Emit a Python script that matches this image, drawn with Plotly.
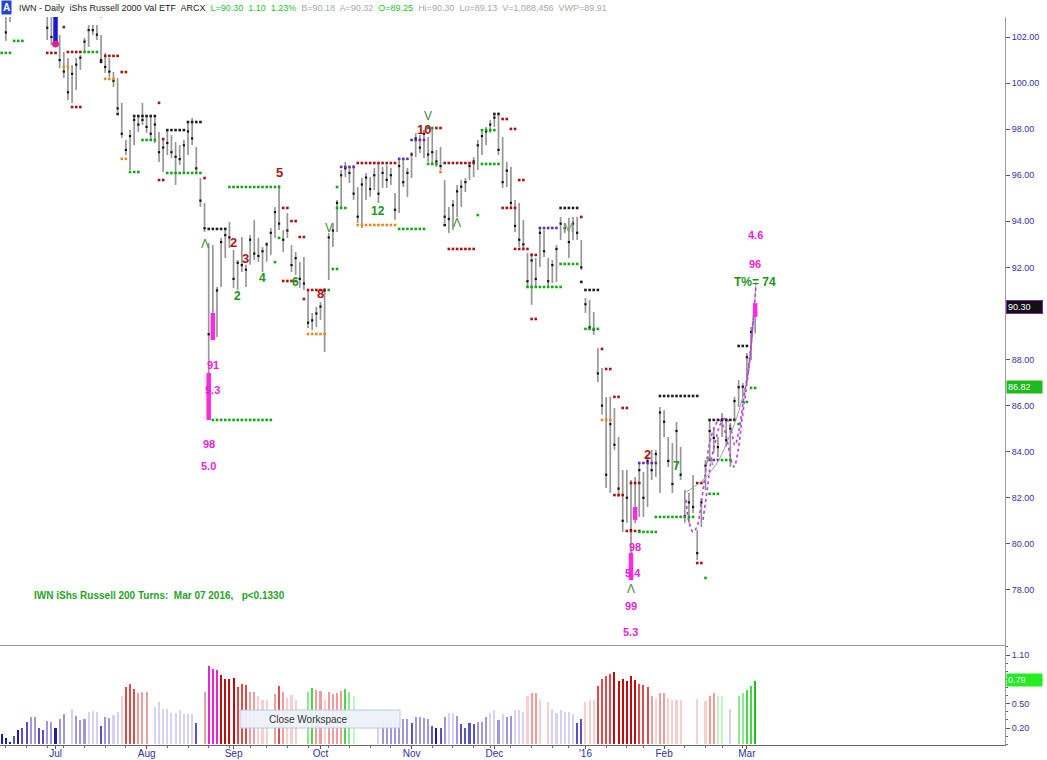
import plotly.graph_objects as go
import pandas as pd

# ---------------- data ----------------
holidays = ["2015-07-03", "2015-09-07", "2015-11-26", "2015-12-25",
            "2016-01-01", "2016-01-18", "2016-02-15"]
dates = pd.bdate_range("2015-06-12", "2016-03-03", freq="C", holidays=holidays)

month_labels = ["Jul", "Aug", "Sep", "Oct", "Nov", "Dec", "'16", "Feb", "Mar"]

high = [104.10, 103.40, 103.50, 104.20, 104.50, 104.60, 104.30, 104.00, 104.40, 104.10,
        103.90, 103.30, 103.20, 103.00, 102.09, 101.35, 101.09, 100.79, 101.09, 101.22,
        101.96, 102.52, 102.52, 102.52, 102.09, 101.31, 101.09, 100.48, 100.22, 99.14,
        97.53, 97.96, 98.62, 98.62, 99.14, 98.62, 98.62, 98.62, 97.88, 97.62,
        97.96, 97.75, 97.44, 97.31, 97.53, 98.31, 98.48, 97.23, 95.88, 94.80,
        93.06, 92.97, 91.15, 93.28, 93.62, 93.97, 92.76, 92.32, 93.32, 92.11,
        93.41, 94.06, 93.28, 92.89, 93.10, 93.71, 94.62, 95.58, 93.62, 94.36,
        92.97, 92.67, 92.24, 92.45, 91.02, 90.02, 90.28, 90.50, 91.11, 93.49,
        93.93, 94.93, 96.23, 96.58, 96.36, 96.45, 95.49, 95.88, 96.10, 95.92,
        96.32, 96.53, 96.36, 96.45, 96.32, 95.23, 96.66, 96.75, 96.32, 97.01,
        97.83, 97.75, 97.96, 97.66, 98.05, 97.10, 97.23, 95.79, 94.62, 94.93,
        95.58, 95.79, 95.88, 96.53, 96.79, 97.53, 97.96, 98.09, 98.40, 98.62,
        98.62, 97.66, 96.58, 96.36, 94.93, 94.80, 94.06, 92.63, 92.63, 92.41,
        93.76, 93.62, 92.41, 92.32, 92.97, 94.19, 93.93, 94.15, 94.19, 94.19,
        93.19, 90.67, 90.59, 90.06, 88.50, 87.63, 86.38, 86.38, 85.90, 84.64,
        83.21, 83.21, 82.77, 82.90, 83.56, 83.12, 83.86, 84.08, 84.08, 85.94,
        85.81, 84.64, 84.38, 85.29, 84.21, 82.34, 82.21, 82.99, 80.60, 81.99,
        83.64, 85.38, 85.07, 84.64, 85.68, 85.46, 85.25, 86.38, 87.11, 86.98,
        88.29, 89.41, 90.30]

low = [103.20, 101.83, 102.65, 103.40, 103.70, 103.80, 103.40, 103.20, 103.60, 103.30,
       103.10, 101.87, 101.65, 101.70, 100.65, 100.22, 99.27, 99.14, 99.70, 100.57,
       101.31, 101.57, 102.09, 101.87, 100.92, 100.44, 100.26, 99.83, 98.75, 97.62,
       96.88, 96.23, 97.31, 97.88, 98.18, 97.83, 97.53, 97.40, 96.58, 96.14,
       96.88, 96.75, 95.58, 96.45, 96.14, 96.88, 97.31, 96.10, 94.62, 93.54,
       85.38, 88.85, 88.98, 91.15, 92.41, 92.84, 91.11, 91.02, 91.80, 91.15,
       92.11, 92.32, 92.24, 91.80, 92.24, 92.54, 93.28, 93.62, 92.67, 93.28,
       91.80, 91.67, 91.11, 91.02, 89.37, 89.28, 89.41, 89.72, 88.33, 91.45,
       92.89, 93.54, 94.58, 95.92, 95.66, 94.93, 93.93, 93.71, 94.93, 95.06,
       95.36, 94.80, 95.45, 95.45, 95.58, 94.06, 94.36, 95.49, 95.06, 95.88,
       96.79, 96.97, 96.75, 96.58, 96.53, 96.36, 96.23, 93.93, 93.49, 93.62,
       94.19, 94.62, 95.27, 95.79, 95.92, 96.23, 96.88, 97.31, 97.83, 98.09,
       96.88, 95.45, 95.49, 94.62, 93.54, 92.89, 92.84, 91.15, 90.37, 91.15,
       92.02, 92.45, 91.15, 91.32, 91.37, 93.19, 93.49, 92.41, 93.19, 93.19,
       91.89, 90.02, 89.28, 89.07, 87.03, 85.60, 82.43, 82.21, 84.08, 82.04,
       80.52, 80.91, 78.43, 80.91, 81.17, 81.17, 81.60, 82.77, 82.90, 82.21,
       84.64, 83.34, 82.21, 83.29, 82.77, 80.91, 80.91, 81.34, 79.30, 80.73,
       82.34, 83.64, 83.95, 83.77, 84.64, 84.21, 83.34, 85.38, 85.94, 86.38,
       86.98, 87.98, 89.13]

close = [103.60, 102.20, 103.10, 103.90, 104.20, 104.00, 103.60, 103.80, 103.70, 103.50,
         103.30, 102.40, 102.00, 101.80, 101.00, 100.50, 99.60, 100.40, 100.80, 101.10,
         101.80, 102.30, 102.30, 102.10, 101.00, 100.70, 100.50, 100.10, 98.90, 97.80,
         97.10, 97.70, 98.40, 98.20, 98.40, 98.10, 97.80, 98.20, 97.00, 97.20,
         97.40, 97.00, 96.80, 96.70, 97.30, 97.90, 97.60, 96.30, 94.90, 93.70,
         89.10, 89.00, 91.00, 93.10, 93.40, 93.30, 91.50, 92.20, 92.10, 91.90,
         93.20, 92.60, 92.50, 92.70, 93.00, 93.50, 94.40, 93.90, 93.20, 93.60,
         92.10, 92.40, 91.50, 91.30, 89.60, 89.70, 90.00, 90.30, 91.00, 93.30,
         93.60, 94.80, 96.00, 96.30, 96.10, 95.20, 94.20, 95.60, 95.90, 95.40,
         96.00, 95.20, 96.10, 95.80, 96.00, 94.50, 96.40, 95.70, 96.10, 96.90,
         97.60, 97.20, 97.80, 96.90, 97.00, 96.60, 96.40, 94.20, 94.10, 94.70,
         95.30, 95.50, 95.70, 96.40, 96.60, 97.30, 97.70, 97.90, 98.20, 98.50,
         97.10, 95.70, 96.20, 94.80, 93.80, 93.20, 93.00, 91.40, 92.30, 91.50,
         93.50, 92.70, 91.40, 92.10, 92.80, 93.90, 93.70, 93.10, 93.90, 93.50,
         92.00, 90.40, 89.40, 89.30, 87.40, 86.00, 83.00, 85.20, 84.30, 82.40,
         81.00, 82.00, 80.60, 81.40, 83.20, 82.00, 83.60, 83.20, 83.90, 85.70,
         85.30, 83.60, 82.60, 84.90, 83.00, 81.20, 81.80, 81.60, 79.60, 81.80,
         83.40, 84.90, 84.60, 84.20, 85.40, 84.50, 85.00, 86.20, 86.80, 86.82,
         88.10, 89.20, 90.30]

osc = [0.13, 0.08, 0.03, 0.10, 0.175, 0.20, 0.28, 0.33, 0.33, 0.20,
       0.17, 0.29, 0.27, 0.20, 0.31, 0.37, None, 0.44, 0.35, 0.30,
       0.31, 0.40, 0.41, 0.40, 0.22, 0.33, 0.32, 0.36, 0.40, 0.59,
       0.71, 0.74, 0.68, 0.63, 0.64, 0.64, None, 0.46, 0.52, 0.44,
       0.44, 0.39, 0.39, 0.42, 0.37, 0.37, 0.37, 0.26, None, 0.65,
       0.96, 0.93, 0.91, 0.85, 0.80, 0.80, 0.82, 0.71, 0.74, 0.73,
       0.64, 0.64, 0.60, 0.545, 0.55, None, 0.615, 0.72, 0.64, 0.57,
       0.61, 0.545, None, None, 0.64, 0.69, 0.67, 0.66, 0.55, 0.64,
       0.615, 0.63, 0.66, 0.68, 0.65, 0.59, None, None, None, None,
       None, 0.42, 0.29, 0.29, 0.30, 0.33, 0.28, 0.31, 0.31, 0.26,
       0.34, 0.33, 0.32, 0.31, 0.22, 0.20, 0.20, 0.33, 0.39, 0.38,
       0.35, 0.245, 0.20, 0.265, 0.245, 0.28, 0.28, 0.33, 0.39, 0.42,
       0.30, 0.37, 0.33, 0.35, 0.42, 0.42, 0.40, 0.59, 0.63, 0.63,
       0.545, None, 0.52, 0.43, 0.39, 0.42, 0.40, 0.40, 0.37, 0.265,
       0.31, 0.52, 0.545, 0.55, 0.72, 0.80, 0.84, 0.86, 0.89, 0.78,
       0.81, 0.78, 0.845, 0.79, 0.74, 0.73, 0.71, 0.60, 0.57, 0.63,
       0.63, 0.57, 0.54, 0.545, 0.545, None, None, None, 0.56, None,
       0.53, 0.59, 0.63, 0.59, 0.59, None, 0.43, None, 0.59, 0.63,
       0.67, 0.72, 0.78]

osc_state = ["b3", "b3", "b3", "b2", "b3", "b2", "b2", "b1", "b1", "b2",
             "b2", "b1", "b1", "b3", "b1", "b1", "w", "b0", "b1", "b1",
             "b1", "b0", "b0", "b0", "b2", "b1", "b1", "b0", "b0", "r0",
             "r2", "r2", "r2", "r1", "r1", "r1", "w", "b0", "b0", "b0",
             "b0", "b0", "b0", "b0", "b0", "b0", "b0", "b2", "w", "r1",
             "m", "m", "m", "r3", "r3", "r3", "r3", "r2", "r2", "r2",
             "r1", "r1", "r0", "r0", "r0", "w", "r1", "r2", "r1", "r0",
             "r0", "r0", "w", "w", "g1", "g2", "r1", "r1", "r0", "r1",
             "r1", "r1", "r1", "g2", "g1", "g0", "w", "w", "w", "w",
             "w", "b0", "b1", "b1", "b1", "b1", "b1", "b1", "b1", "b2",
             "b1", "b1", "b1", "b1", "b2", "b3", "b2", "b1", "b0", "b0",
             "b1", "b2", "b2", "b2", "b2", "b1", "b1", "b1", "b0", "b0",
             "b1", "b0", "b1", "b1", "b0", "b0", "b0", "r0", "r1", "r1",
             "r0", "w", "r0", "b0", "b0", "b0", "b0", "b0", "b0", "b2",
             "b2", "r0", "r0", "r0", "r2", "r2", "r2", "r2", "r3", "r3",
             "r3", "r3", "r3", "r3", "r2", "r2", "r2", "r1", "r0", "r1",
             "r1", "r0", "r0", "r0", "r0", "w", "w", "w", "r0", "w",
             "r0", "r1", "r1", "g0", "g0", "w", "b0", "w", "g1", "g1",
             "g2", "g2", "g3"]

# stop / level dots: (first bar, last bar, price, kind)
levels = [
    (0, 2, 101.31, "g"), (3, 5, 101.83, "g"), (11, 13, 101.31, "r"), (15, 15, 102.43, "r"),
    (16, 19, 101.35, "r"), (15, 16, 100.70, "o"), (17, 19, 98.96, "r"), (20, 23, 101.35, "g"),
    (24, 24, 102.91, "r"), (24, 24, 100.92, "k"), (25, 28, 101.18, "r"), (25, 27, 100.18, "o"),
    (29, 30, 100.48, "r"), (28, 28, 98.66, "k"), (38, 38, 99.14, "r"), (39, 39, 97.57, "r"),
    (32, 37, 98.57, "k"), (34, 37, 97.53, "g"), (31, 33, 96.14, "g"), (29, 30, 96.71, "o"),
    (40, 44, 97.96, "k"), (45, 48, 98.31, "k"), (40, 48, 96.10, "g"), (38, 39, 95.79, "r"),
    (49, 49, 95.88, "r"), (50, 54, 93.67, "k"), (55, 67, 95.49, "g"), (68, 69, 94.58, "r"),
    (70, 71, 94.01, "r"), (72, 73, 93.32, "r"), (67, 67, 93.28, "g"), (66, 66, 92.23, "g"),
    (68, 71, 91.41, "r"), (74, 78, 91.02, "r"), (73, 73, 90.63, "r"), (74, 78, 89.11, "o"),
    (79, 79, 91.02, "g"), (80, 81, 91.93, "g"), (81, 83, 94.58, "g"), (51, 65, 85.38, "g"),
    (81, 81, 95.49, "g"), (82, 85, 96.36, "p"), (86, 95, 96.53, "r"), (86, 95, 93.84, "o"),
    (96, 102, 93.67, "g"), (96, 98, 96.71, "p"), (99, 102, 97.53, "p"), (103, 104, 98.05, "g"),
    (105, 106, 98.05, "r"), (103, 105, 96.49, "g"), (106, 106, 96.14, "o"), (107, 114, 96.53, "r"),
    (108, 114, 92.80, "r"), (107, 107, 93.84, "k"), (115, 115, 94.27, "g"), (116, 119, 97.96, "g"),
    (116, 120, 96.49, "g"), (119, 120, 98.66, "k"), (121, 122, 98.44, "r"), (123, 124, 98.01, "r"),
    (125, 126, 95.79, "r"), (121, 124, 94.58, "r"), (124, 127, 92.80, "r"), (128, 129, 92.54, "r"),
    (127, 135, 91.15, "g"), (128, 129, 89.76, "r"), (130, 134, 93.71, "p"), (135, 139, 94.58, "k"),
    (135, 139, 92.15, "g"), (140, 140, 94.19, "r"), (140, 140, 91.37, "k"), (141, 144, 91.02, "k"),
    (141, 144, 89.33, "g"), (145, 145, 88.46, "r"), (146, 147, 87.59, "r"), (148, 149, 86.38, "r"),
    (150, 151, 85.90, "r"), (145, 147, 85.38, "o"), (148, 150, 82.12, "r"), (152, 154, 82.64, "r"),
    (154, 158, 83.51, "p"), (151, 154, 80.56, "r"), (154, 158, 80.52, "g"), (159, 168, 86.42, "k"),
    (158, 167, 81.17, "g"), (168, 169, 82.64, "r"), (171, 173, 82.17, "g"), (171, 173, 83.64, "p"),
    (174, 176, 83.64, "g"), (168, 169, 79.17, "r"), (170, 170, 78.52, "g"), (171, 177, 85.38, "k"),
    (178, 178, 85.20, "g"), (178, 180, 88.59, "k"), (181, 182, 86.77, "g"), (179, 180, 86.16, "g"),
]

# highlighted bars: (bar, top price, bottom price, kind)
highlights = [(13, 102.95, 101.70, "blue"), (50, 87.42, 85.38, "pink"), (51, 90.02, 88.85, "pink"),
              (152, 79.61, 78.43, "pink"), (153, 81.60, 81.04, "pink"), (182, 90.45, 89.85, "pink")]

# chart labels: (text, bar, price, kind)
labels = [
    ("5", 67, 96.10, "red"), ("2", 56, 93.06, "red"), ("3", 59, 92.37, "red"),
    ("2", 57, 90.76, "green"), ("4", 63, 91.54, "green"), ("6", 71, 91.37, "green"),
    ("8", 77, 90.85, "red"), ("V", 79, 93.71, "gthin"), ("Λ", 49, 93.02, "gthin"),
    ("12", 91, 94.45, "green"), ("10", 102, 97.98, "red"), ("V", 103, 98.58, "gthin"),
    ("Λ", 110, 93.93, "gthin"), ("M", 137, 93.75, "gray"), ("2", 156, 83.86, "red"),
    ("7", 163, 83.38, "green"), ("Λ", 171, 83.64, "gray"), ("Λ", 152, 78.05, "gthin"),
    ("98", 153, 79.87, "mag"), ("5.4", 152.6, 78.72, "mag"), ("99", 152, 77.31, "mag"),
    ("5.3", 152, 76.18, "mag"), ("91", 51, 87.77, "mag"), ("5.3", 51, 86.68, "mag"),
    ("98", 50, 84.34, "mag"), ("5.0", 50, 83.38, "mag"), ("4.6", 182, 93.41, "mag"),
    ("96", 182, 92.15, "mag"), ("T%= 74", 182, 91.37, "green"),
]

# projected turn curves (bar, price)
curve1_x = [165.3, 166.0, 167.0, 168.0, 168.9, 169.9, 170.9, 172.1, 173.3, 174.2,
            175.2, 176.2, 176.9, 177.9, 178.8, 179.8, 180.8, 181.5, 182.2]
curve1_y = [81.91, 80.95, 80.52, 80.78, 81.69, 82.99, 84.29, 85.03, 85.38, 85.16,
            84.51, 83.64, 83.34, 84.08, 85.38, 86.68, 88.20, 89.72, 91.24]
curve2_x = [169.4, 170.4, 171.3, 172.5, 173.5, 174.9, 176.2, 177.1, 178.1, 179.0,
            180.0, 181.0, 181.7]
curve2_y = [81.04, 82.34, 83.56, 84.51, 85.16, 85.47, 84.94, 84.29, 84.94, 86.03,
            87.20, 88.63, 90.15]
trend_x = [165.0, 167.2, 169.4, 171.6, 173.5, 175.4, 177.1, 178.8, 180.3, 181.2, 182.2]
trend_y = [82.21, 82.47, 82.77, 83.21, 83.73, 84.51, 85.25, 86.25, 87.33, 88.85, 91.37]

last_price = 90.30
marker_price = 86.82
osc_last = 0.79

# ---------------- styling ----------------
FONT = "Liberation Sans, Arial, sans-serif"
W, H = 1047, 760
ML, MR, MT, MB = 0, 42, 5, 15
PW, PH = W - ML - MR, H - MT - MB


def xp(px):
    return (px - ML) / PW


def yp(py):
    return (H - MB - py) / PH


level_colors = {"g": "#12a812", "k": "#1e1e1e", "r": "#a81010", "o": "#e08a1c", "p": "#6a2ab0"}
state_colors = {"b3": "#1c1ca6", "b2": "#5a52c4", "b1": "#9f98dc", "b0": "#d6d2f1", "w": "#ffffff",
                "r0": "#f8cece", "r1": "#f09c9c", "r2": "#e04a4a", "r3": "#c20c0c",
                "m": "#f01fd8", "g0": "#c2f2c2", "g1": "#8ee88e", "g2": "#48d848", "g3": "#16c616"}
label_styles = {"red": ("#b01515", 13, True), "green": ("#1b941b", 12, True),
                "mag": ("#ec1edc", 11, True), "gthin": ("#3d8c3d", 12, False),
                "gray": ("#7f9a7f", 13, False)}

n = len(high)
idx = list(range(n))

fig = go.Figure()

# high-low bars
bx, by = [], []
for i in idx:
    bx += [i, i, None]
    by += [low[i], high[i], None]
fig.add_trace(go.Scatter(x=bx, y=by, mode="lines", line=dict(color="#979797", width=1.7),
                         hoverinfo="skip", xaxis="x", yaxis="y"))
fig.add_trace(go.Scatter(x=idx, y=close, mode="markers",
                         marker=dict(symbol="square", size=2.2, color="#111111"),
                         hoverinfo="skip", xaxis="x", yaxis="y"))

# level dots
lx, ly, lc = [], [], []
for a, b, p, k in levels:
    for i in range(a, b + 1):
        lx.append(i)
        ly.append(p)
        lc.append(level_colors[k])
fig.add_trace(go.Scatter(x=lx, y=ly, mode="markers",
                         marker=dict(symbol="square", size=2.6, color=lc, line=dict(width=0)),
                         hoverinfo="skip", xaxis="x", yaxis="y"))

# curves
fig.add_trace(go.Scatter(x=trend_x, y=trend_y, mode="lines", line=dict(color="#a0a0a0", width=1),
                         line_shape="spline", hoverinfo="skip", xaxis="x", yaxis="y"))
for cx, cy in ((curve1_x, curve1_y), (curve2_x, curve2_y)):
    fig.add_trace(go.Scatter(x=cx, y=cy, mode="lines", line_shape="spline",
                             line=dict(color="#b444d4", width=1.6, dash="dot"),
                             hoverinfo="skip", xaxis="x", yaxis="y"))

# highlight bars
for i, top, bot, k in highlights:
    col = "#1a1ad0" if k == "blue" else "#ff2ae0"
    fig.add_trace(go.Scatter(x=[i, i], y=[bot, top], mode="lines", line=dict(color=col, width=4.5),
                             hoverinfo="skip", xaxis="x", yaxis="y"))
fig.add_trace(go.Scatter(x=[highlights[0][0]], y=[highlights[0][2]], mode="markers",
                         marker=dict(size=7, color="#e0208c"), hoverinfo="skip", xaxis="x", yaxis="y"))

# oscillator bars
fig.add_trace(go.Bar(x=idx, y=osc, marker=dict(color=[state_colors[s] for s in osc_state], line=dict(width=0)),
                     width=0.5, hoverinfo="skip", xaxis="x2", yaxis="y2"))

# axis ticks from dates (first trading day of each month / week)
month_pos, week_pos = [], []
prev = None
for i, d in enumerate(dates[:n]):
    if prev is not None and d.month != prev.month:
        month_pos.append(i)
    if prev is not None and d.weekday() < prev.weekday():
        week_pos.append(i)
    prev = d
month_pos = month_pos[:len(month_labels)]

x_lo = (0 - 1.7) / 4.14
x_hi = (PW - 1.7) / 4.14
p_hi = 102 + (37 - 17) / 23.04
p_lo = p_hi - (645 - 17) / 23.04
o_lo = 0.20 - (745 - 728) / 81.1
o_hi = o_lo + 100 / 81.1

axis_font = dict(family=FONT, size=10, color="#2e3496")
price_ticks = [v for v in range(78, 104, 2) if abs(v - last_price) > 0.6]

fig.update_layout(
    width=W, height=H, margin=dict(l=ML, r=MR, t=MT, b=MB, autoexpand=False),
    paper_bgcolor="white", plot_bgcolor="white", showlegend=False, bargap=0,
    font=dict(family=FONT),
    xaxis=dict(domain=[0, 1], anchor="y", range=[x_lo, x_hi], showticklabels=False, ticks="",
               showgrid=False, zeroline=False, showline=True, linecolor="#9a9a9a", linewidth=1,
               automargin=False),
    xaxis2=dict(domain=[0, 1], anchor="y2", range=[x_lo, x_hi], tickmode="array",
                tickvals=month_pos, ticktext=month_labels, ticks="outside", ticklen=3,
                ticklabelstandoff=-4,
                tickcolor="#555555", tickfont=axis_font, showgrid=False, zeroline=False,
                showline=True, linecolor="#666666", linewidth=1, automargin=False,
                minor=dict(tickmode="array", tickvals=week_pos, ticks="outside", ticklen=2,
                           tickcolor="#666666")),
    yaxis=dict(domain=[yp(645), yp(17)], range=[p_lo, p_hi], side="right",
               tickmode="array", tickvals=price_ticks, tickformat=".2f",
               ticks="outside", ticklen=4, tickcolor="#555555", automargin=False,
               tickfont=dict(family=FONT, size=9, color="#33339a"),
               showgrid=False, zeroline=False, showline=True, linecolor="#9a9a9a", mirror=True),
    yaxis2=dict(domain=[0, yp(645)], range=[o_lo, o_hi], side="right",
                tickmode="array", tickvals=[0.2, 0.5, 1.1], tickformat=".2f",
                ticks="outside", ticklen=4, tickcolor="#555555", automargin=False,
                tickfont=dict(family=FONT, size=9, color="#33339a"),
                minor=dict(dtick=0.1, ticks="outside", ticklen=2, tickcolor="#666666"),
                showgrid=False, zeroline=False, showline=True, linecolor="#9a9a9a", mirror=True),
)

ann = []
for text, i, p, k in labels:
    col, size, bold = label_styles[k]
    t = f"<b>{text}</b>" if bold else text
    ann.append(dict(x=i, y=p, xref="x", yref="y", text=t, showarrow=False,
                    font=dict(family=FONT, size=size, color=col), xanchor="center", yanchor="middle"))

ann.append(dict(xref="paper", yref="paper", x=xp(32), y=yp(595), xanchor="left", yanchor="middle",
                showarrow=False,
                text="<b>IWN iShs Russell 200 Turns:&nbsp; Mar 07 2016,&nbsp;&nbsp; p&lt;0.1330</b>",
                font=dict(family=FONT, size=10, color="#1fa51f")))

# value boxes on the right axis
ann.append(dict(xref="paper", x=1, xanchor="left", xshift=1, yref="y", y=last_price, yanchor="middle",
                text=f"{last_price:.2f}&nbsp;&nbsp;&nbsp;&nbsp;", showarrow=False,
                font=dict(family=FONT, size=9, color="white"), bgcolor="#111111",
                bordercolor="#7a2aa8", borderwidth=1, borderpad=1))
ann.append(dict(xref="paper", x=1, xanchor="left", xshift=1, yref="y", y=marker_price, yanchor="middle",
                text=f"{marker_price:.2f}&nbsp;&nbsp;&nbsp;&nbsp;", showarrow=False,
                font=dict(family=FONT, size=9, color="white"), bgcolor="#1dbb1d",
                borderpad=1))
ann.append(dict(xref="paper", x=1, xanchor="left", xshift=1, yref="y2", y=osc_last, yanchor="middle",
                text=f"{osc_last:.2f}&nbsp;&nbsp;&nbsp;&nbsp;&nbsp;&nbsp;", showarrow=False,
                font=dict(family=FONT, size=9, color="white"), bgcolor="#22ee22", borderpad=1))

# header
ann.append(dict(xref="paper", yref="paper", x=xp(1), y=yp(8), xanchor="left", yanchor="middle",
                text="<b>A</b>", showarrow=False, bgcolor="#2344d0", borderpad=1,
                font=dict(family=FONT, size=10, color="white")))
hdr = ("IWN - Daily&nbsp; iShs Russell 2000 Val ETF&nbsp; ARCX&nbsp; "
       "<span style='color:#22c22e'>L=90.30&nbsp; 1.10&nbsp; 1.23%</span>&nbsp; "
       "<span style='color:#a8a8a8'>B=90.18&nbsp; A=90.32</span>&nbsp; "
       "<span style='color:#22c22e'>O=89.25</span>&nbsp; "
       "<span style='color:#a8a8a8'>Hi=90.30&nbsp; Lo=89.13&nbsp; V=1,088,456&nbsp; VWP=89.91</span>")
ann.append(dict(xref="paper", yref="paper", x=xp(17), y=yp(8), xanchor="left", yanchor="middle",
                text=hdr, showarrow=False, font=dict(family=FONT, size=9, color="#1a1a1a")))

# Close Workspace popup
ann.append(dict(xref="paper", yref="paper", x=xp(267), y=yp(719), xanchor="left", yanchor="middle",
                text="Close Workspace", showarrow=False, font=dict(family=FONT, size=10, color="#333333")))

fig.update_layout(annotations=ann)
fig.add_shape(type="rect", xref="paper", yref="paper", x0=xp(240), x1=xp(400), y0=yp(728), y1=yp(710),
              fillcolor="#eef3fb", line=dict(color="#b4c6e2", width=1), layer="above", opacity=0.95)

fig.write_html("out.html", config={"displayModeBar": False},
               post_script="document.body.style.margin='0px';"
                           "document.documentElement.style.overflow='hidden';")
